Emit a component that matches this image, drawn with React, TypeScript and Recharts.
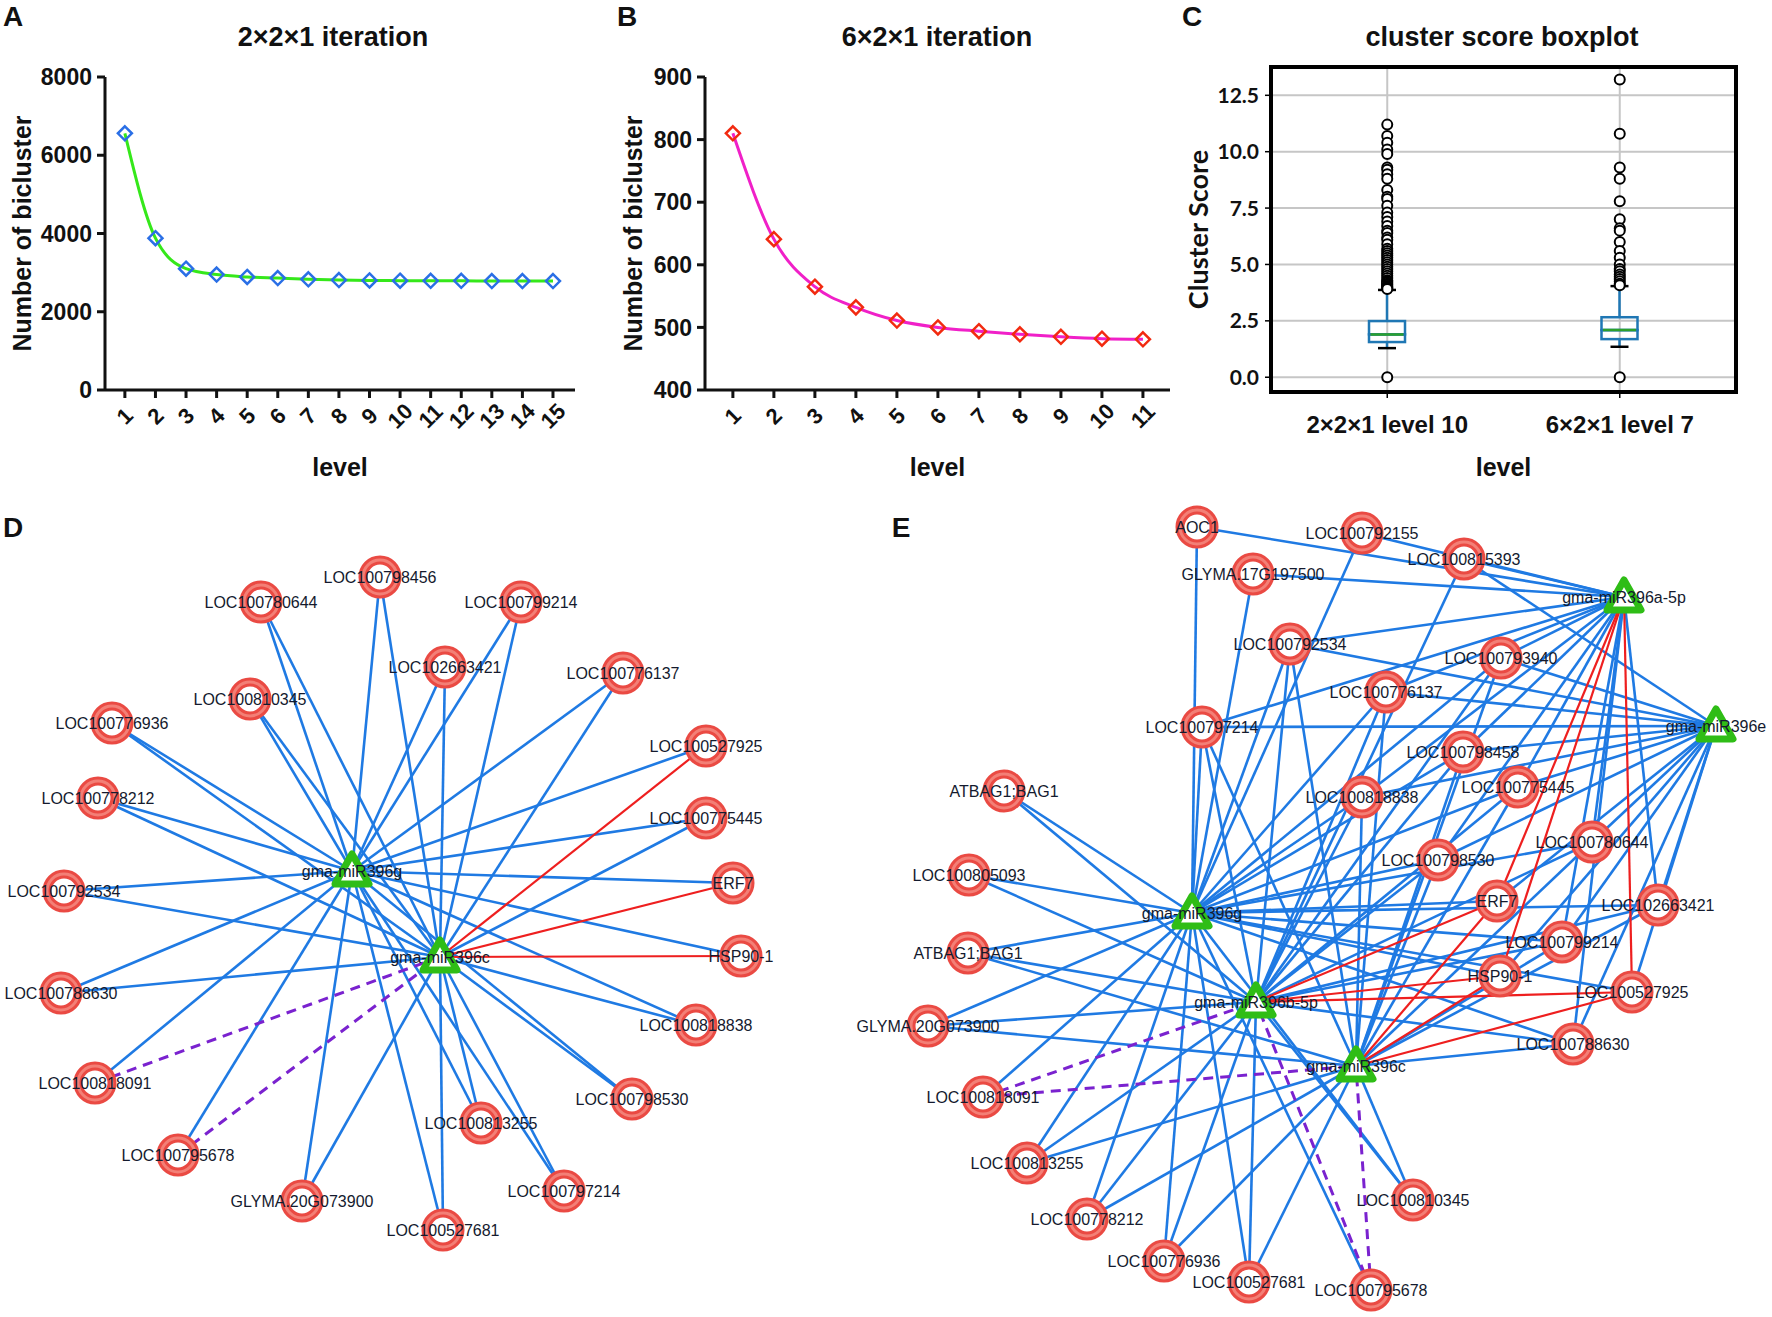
import React from 'react';
import {
  LineChart,
  Line,
  XAxis,
  YAxis,
  Label,
  ComposedChart,
  Bar,
  Scatter,
  CartesianGrid,
  ReferenceArea,
  ScatterChart,
  ReferenceLine,
} from 'recharts';

const SANS = '"Liberation Sans", Arial, sans-serif';
const LATO = 'Lato, "Liberation Sans", sans-serif';
const INK = '#111111';

// ---- panel A: 2x2x1 iteration
const levelsA = [1, 2, 3, 4, 5, 6, 7, 8, 9, 10, 11, 12, 13, 14, 15];
const countsA = [6560, 3880, 3100, 2950, 2890, 2860, 2830, 2810, 2800, 2795, 2790, 2790, 2785, 2785, 2785];
const yTicksA = [0, 2000, 4000, 6000, 8000];

// ---- panel B: 6x2x1 iteration
const levelsB = [1, 2, 3, 4, 5, 6, 7, 8, 9, 10, 11];
const countsB = [810, 641, 565, 532, 511, 500, 494, 489, 485, 482, 481];
const yTicksB = [400, 500, 600, 700, 800, 900];

// ---- panel C: cluster score boxplot
const boxLabels = ['2×2×1 level 10', '6×2×1 level 7'];
const boxPos = [1, 2];
const whiskerLow = [1.29, 1.35];
const quart1 = [1.56, 1.69];
const medians = [1.9, 2.09];
const quart3 = [2.49, 2.66];
const whiskerHigh = [3.87, 4.04];
const outliers1 = [
  11.2, 10.7, 10.4, 10.1, 9.9, 9.3, 9.2, 9.0, 8.8, 8.3, 8.0, 7.9, 7.6, 7.3, 7.1, 6.9, 6.7, 6.5,
  6.4, 6.2, 6.1, 5.9, 5.7, 5.6, 5.5, 5.4, 5.3, 5.2, 5.1, 5.0, 4.9, 4.8, 4.7, 4.6, 4.5, 4.4,
  4.3, 4.25, 4.2, 4.15, 4.1, 4.05, 4.0, 3.97, 3.94, 3.91, 0.0,
];
const outliers2 = [
  13.2, 10.8, 9.3, 8.8, 7.8, 7.0, 6.6, 6.5, 6.0, 5.6, 5.3, 5.0, 4.8, 4.7, 4.55, 4.45, 4.35,
  4.25, 4.15, 4.08, 0.0,
];
const scoreTicks = [0, 2.5, 5, 7.5, 10, 12.5];

// ---- panel D network (layout positions)
const dMirnas = [
  { key: 'g', label: 'gma-miR396g', x: 352, y: 871 },
  { key: 'c', label: 'gma-miR396c', x: 440, y: 957 },
];
const dTargets = [
  { label: 'LOC100798456', x: 380, y: 577, blue: 'gc', red: '', dash: '' },
  { label: 'LOC100780644', x: 261, y: 602, blue: 'gc', red: '', dash: '' },
  { label: 'LOC100799214', x: 521, y: 602, blue: 'gc', red: '', dash: '' },
  { label: 'LOC102663421', x: 445, y: 667, blue: 'gc', red: '', dash: '' },
  { label: 'LOC100776137', x: 623, y: 673, blue: 'gc', red: '', dash: '' },
  { label: 'LOC100810345', x: 250, y: 699, blue: 'gc', red: '', dash: '' },
  { label: 'LOC100776936', x: 112, y: 723, blue: 'gc', red: '', dash: '' },
  { label: 'LOC100778212', x: 98, y: 798, blue: 'gc', red: '', dash: '' },
  { label: 'LOC100792534', x: 64, y: 891, blue: 'gc', red: '', dash: '' },
  { label: 'LOC100788630', x: 61, y: 993, blue: 'gc', red: '', dash: '' },
  { label: 'LOC100818091', x: 95, y: 1083, blue: 'g', red: '', dash: 'c' },
  { label: 'LOC100795678', x: 178, y: 1155, blue: 'g', red: '', dash: 'c' },
  { label: 'GLYMA.20G073900', x: 302, y: 1201, blue: 'gc', red: '', dash: '' },
  { label: 'LOC100527681', x: 443, y: 1230, blue: 'gc', red: '', dash: '' },
  { label: 'LOC100813255', x: 481, y: 1123, blue: 'gc', red: '', dash: '' },
  { label: 'LOC100797214', x: 564, y: 1191, blue: 'gc', red: '', dash: '' },
  { label: 'LOC100798530', x: 632, y: 1099, blue: 'gc', red: '', dash: '' },
  { label: 'LOC100818838', x: 696, y: 1025, blue: 'gc', red: '', dash: '' },
  { label: 'HSP90-1', x: 741, y: 956, blue: 'g', red: 'c', dash: '' },
  { label: 'ERF7', x: 733, y: 883, blue: 'g', red: 'c', dash: '' },
  { label: 'LOC100775445', x: 706, y: 818, blue: 'gc', red: '', dash: '' },
  { label: 'LOC100527925', x: 706, y: 746, blue: 'g', red: 'c', dash: '' },
];

// ---- panel E network
const eMirnas = [
  { key: 'a', label: 'gma-miR396a-5p', x: 1624, y: 597 },
  { key: 'e', label: 'gma-miR396e', x: 1716, y: 726 },
  { key: 'g', label: 'gma-miR396g', x: 1192, y: 913 },
  { key: 'b', label: 'gma-miR396b-5p', x: 1256, y: 1002 },
  { key: 'c', label: 'gma-miR396c', x: 1356, y: 1066 },
];
const eTargets = [
  { label: 'AOC1', x: 1197, y: 527, blue: 'ag', red: '', dash: '' },
  { label: 'LOC100792155', x: 1362, y: 533, blue: 'ag', red: '', dash: '' },
  { label: 'LOC100815393', x: 1464, y: 559, blue: 'aeb', red: '', dash: '' },
  { label: 'GLYMA.17G197500', x: 1253, y: 574, blue: 'ag', red: '', dash: '' },
  { label: 'LOC100792534', x: 1290, y: 644, blue: 'aegbc', red: '', dash: '' },
  { label: 'LOC100793940', x: 1501, y: 658, blue: 'aegbc', red: '', dash: '' },
  { label: 'LOC100776137', x: 1386, y: 692, blue: 'aegbc', red: '', dash: '' },
  { label: 'LOC100797214', x: 1202, y: 727, blue: 'aegbc', red: '', dash: '' },
  { label: 'LOC100798458', x: 1463, y: 752, blue: 'aegbc', red: '', dash: '' },
  { label: 'LOC100775445', x: 1518, y: 787, blue: 'aegbc', red: '', dash: '' },
  { label: 'LOC100818838', x: 1362, y: 797, blue: 'aegbc', red: '', dash: '' },
  { label: 'ATBAG1;BAG1', x: 1004, y: 791, blue: 'gb', red: '', dash: '' },
  { label: 'LOC100780644', x: 1592, y: 842, blue: 'aegbc', red: '', dash: '' },
  { label: 'LOC100798530', x: 1438, y: 860, blue: 'aegbc', red: '', dash: '' },
  { label: 'LOC100805093', x: 969, y: 875, blue: 'gb', red: '', dash: '' },
  { label: 'ERF7', x: 1497, y: 901, blue: 'ge', red: 'abc', dash: '' },
  { label: 'LOC102663421', x: 1658, y: 905, blue: 'aegbc', red: '', dash: '' },
  { label: 'LOC100799214', x: 1562, y: 942, blue: 'aegbc', red: '', dash: '' },
  { label: 'ATBAG1;BAG1', x: 968, y: 953, blue: 'gbc', red: '', dash: '' },
  { label: 'HSP90-1', x: 1500, y: 976, blue: 'ge', red: 'abc', dash: '' },
  { label: 'LOC100527925', x: 1632, y: 992, blue: 'ge', red: 'abc', dash: '' },
  { label: 'GLYMA.20G073900', x: 928, y: 1026, blue: 'gbc', red: '', dash: '' },
  { label: 'LOC100788630', x: 1573, y: 1044, blue: 'aegbc', red: '', dash: '' },
  { label: 'LOC100818091', x: 983, y: 1097, blue: 'g', red: '', dash: 'bc' },
  { label: 'LOC100813255', x: 1027, y: 1163, blue: 'gbc', red: '', dash: '' },
  { label: 'LOC100810345', x: 1413, y: 1200, blue: 'gbc', red: '', dash: '' },
  { label: 'LOC100778212', x: 1087, y: 1219, blue: 'gbc', red: '', dash: '' },
  { label: 'LOC100776936', x: 1164, y: 1261, blue: 'gbc', red: '', dash: '' },
  { label: 'LOC100527681', x: 1249, y: 1282, blue: 'gbc', red: '', dash: '' },
  { label: 'LOC100795678', x: 1371, y: 1290, blue: 'g', red: '', dash: 'bc' },
];

const EDGE_STYLE: Record<string, { stroke: string; strokeWidth: number; dash?: string }> = {
  blue: { stroke: '#1f7ae3', strokeWidth: 2.6 },
  red: { stroke: '#ee1f1f', strokeWidth: 2.2 },
  dash: { stroke: '#7a22cf', strokeWidth: 3, dash: '10 7' },
};

const diamond = (color: string) => (props: any) => {
  const { cx, cy, index } = props;
  if (cx == null || cy == null) return <g key={`dm${index}`} />;
  const r = 7;
  return (
    <path
      key={`dm${index}`}
      d={`M${cx},${cy - r}L${cx + r},${cy}L${cx},${cy + r}L${cx - r},${cy}Z`}
      fill="none"
      stroke={color}
      strokeWidth={2.5}
    />
  );
};

const SlantTick = (props: any) => {
  const { x, y, payload } = props;
  return (
    <g transform={`translate(${x},${y + 16}) rotate(-45)`}>
      <text textAnchor="middle" dominantBaseline="central" fontSize={22} fontWeight={700} fontFamily={SANS} fill={INK}>
        {payload.value}
      </text>
    </g>
  );
};

// plot area of A/B: top 77, bottom 390 in page px; y axis box 83 px wide, x axis box 60 px tall
function IterationChart(props: {
  left: number;
  levels: number[];
  counts: number[];
  xDomain: [number, number];
  yTicks: number[];
  lineColor: string;
  markColor: string;
  plotLeft: number;
  plotRight: number;
  yLabelX: number;
}) {
  const rows = props.levels.map((l, i) => ({ level: l, count: props.counts[i] }));
  const yDomain: [number, number] = [props.yTicks[0], props.yTicks[props.yTicks.length - 1]];
  const W = 600;
  const axisW = 83;
  return (
    <div style={{ position: 'absolute', left: props.left, top: 0 }}>
      <LineChart
        width={W}
        height={480}
        data={rows}
        margin={{ top: 77, left: props.plotLeft - axisW, right: W - props.plotRight, bottom: 30 }}
      >
        <XAxis
          type="number"
          dataKey="level"
          domain={props.xDomain}
          ticks={props.levels}
          interval={0}
          height={60}
          tick={<SlantTick />}
          tickSize={8}
          axisLine={{ stroke: INK, strokeWidth: 3 }}
          tickLine={{ stroke: INK, strokeWidth: 3 }}
        >
          <Label value="level" position="bottom" offset={8} fontSize={25} fontWeight={700} fontFamily={SANS} fill={INK} />
        </XAxis>
        <YAxis
          type="number"
          domain={yDomain}
          ticks={props.yTicks}
          width={axisW}
          tickSize={8}
          tickMargin={5}
          axisLine={{ stroke: INK, strokeWidth: 3 }}
          tickLine={{ stroke: INK, strokeWidth: 3 }}
          tick={{ fontSize: 23, fontWeight: 700, fontFamily: SANS, fill: INK }}
        >
          <Label
            value="Number of bicluster"
            angle={-90}
            position="insideLeft"
            offset={props.yLabelX - (props.plotLeft - axisW)}
            fontSize={25}
            fontWeight={700}
            fontFamily={SANS}
            fill={INK}
            style={{ textAnchor: 'middle' }}
          />
        </YAxis>
        <Line
          type="monotone"
          dataKey="count"
          stroke={props.lineColor}
          strokeWidth={3}
          dot={diamond(props.markColor)}
          isAnimationActive={false}
        />
      </LineChart>
    </div>
  );
}

const BOX_BLUE = '#1f77b4';
const EmptyShape = () => <g />;
const LowWhisker = (p: any) => {
  const cx = p.x + p.width / 2;
  return (
    <g>
      <line x1={cx} x2={cx} y1={p.y} y2={p.y + p.height} stroke={BOX_BLUE} strokeWidth={2.5} />
      <line x1={cx - p.width / 4} x2={cx + p.width / 4} y1={p.y + p.height} y2={p.y + p.height} stroke="#000" strokeWidth={2.5} />
    </g>
  );
};
const HighWhisker = (p: any) => {
  const cx = p.x + p.width / 2;
  return (
    <g>
      <line x1={cx} x2={cx} y1={p.y} y2={p.y + p.height} stroke={BOX_BLUE} strokeWidth={2.5} />
      <line x1={cx - p.width / 4} x2={cx + p.width / 4} y1={p.y} y2={p.y} stroke="#000" strokeWidth={2.5} />
    </g>
  );
};
const LowBox = (p: any) => (
  <rect x={p.x} y={p.y} width={p.width} height={p.height} fill="none" stroke={BOX_BLUE} strokeWidth={2.5} />
);
const HighBox = (p: any) => (
  <g>
    <rect x={p.x} y={p.y} width={p.width} height={p.height} fill="none" stroke={BOX_BLUE} strokeWidth={2.5} />
    <line x1={p.x + 1.5} x2={p.x + p.width - 1.5} y1={p.y + p.height} y2={p.y + p.height} stroke="#2ca02c" strokeWidth={2.5} />
  </g>
);
const OutlierDot = (p: any) => <circle cx={p.cx} cy={p.cy} r={5} fill="#fff" stroke="#000" strokeWidth={2} />;

const BoxTick = (props: any) => {
  const { x, y, payload } = props;
  return (
    <text x={x} y={y + 24} textAnchor="middle" dominantBaseline="central" fontSize={24} fontWeight={700} fontFamily={SANS} fill={INK}>
      {boxLabels[boxPos.indexOf(payload.value)]}
    </text>
  );
};

function ScoreBoxplot() {
  const rows = boxPos.map((p, i) => ({
    pos: p,
    base: whiskerLow[i],
    lowW: quart1[i] - whiskerLow[i],
    lowBox: medians[i] - quart1[i],
    highBox: quart3[i] - medians[i],
    highW: whiskerHigh[i] - quart3[i],
  }));
  const points = [
    ...outliers1.map((v) => ({ pos: 1, score: v })),
    ...outliers2.map((v) => ({ pos: 2, score: v })),
  ];
  const yDom: [number, number] = [-0.655, 13.755];
  // container starts at page x 1100; plot area 1271..1736 x 67..392
  return (
    <div style={{ position: 'absolute', left: 1100, top: 0 }}>
      <ComposedChart width={672} height={480} data={rows} margin={{ top: 67, left: 91, right: 36, bottom: 38 }}>
        <CartesianGrid stroke="#c6c6c6" strokeWidth={2} />
        <XAxis
          type="number"
          dataKey="pos"
          domain={[0.5, 2.5]}
          ticks={boxPos}
          height={50}
          axisLine={false}
          tickSize={6}
          tickLine={{ stroke: '#000', strokeWidth: 1.5 }}
          tick={<BoxTick />}
        >
          <Label value="level" position="bottom" offset={16} fontSize={25} fontWeight={700} fontFamily={SANS} fill={INK} />
        </XAxis>
        <YAxis
          type="number"
          domain={yDom}
          ticks={scoreTicks}
          tickFormatter={(v: number) => v.toFixed(1)}
          width={80}
          axisLine={false}
          tickSize={6}
          tickMargin={6}
          tickLine={{ stroke: '#000', strokeWidth: 1.5 }}
          tick={{ fontSize: 21, fontWeight: 700, fontFamily: LATO, fill: INK }}
        >
          <Label
            value="Cluster Score"
            angle={-90}
            position="insideLeft"
            offset={7}
            fontSize={27}
            fontWeight={700}
            fontFamily={LATO}
            fill={INK}
            style={{ textAnchor: 'middle' }}
          />
        </YAxis>
        <Bar dataKey="base" stackId="box" barSize={36} shape={EmptyShape} isAnimationActive={false} />
        <Bar dataKey="lowW" stackId="box" barSize={36} shape={LowWhisker} isAnimationActive={false} />
        <Bar dataKey="lowBox" stackId="box" barSize={36} shape={LowBox} isAnimationActive={false} />
        <Bar dataKey="highBox" stackId="box" barSize={36} shape={HighBox} isAnimationActive={false} />
        <Bar dataKey="highW" stackId="box" barSize={36} shape={HighWhisker} isAnimationActive={false} />
        <Scatter data={points} dataKey="score" shape={OutlierDot} isAnimationActive={false} />
        <ReferenceArea
          x1={0.5}
          x2={2.5}
          y1={yDom[0]}
          y2={yDom[1]}
          fill="none"
          fillOpacity={0}
          stroke="#000"
          strokeWidth={4}
          ifOverflow="visible"
        />
      </ComposedChart>
    </div>
  );
}

const TargetNode = (p: any) => {
  const { cx, cy, payload } = p;
  return (
    <g>
      <circle cx={cx} cy={cy} r={17} fill="#fff" stroke="#ea4a43" strokeWidth={9} />
      <circle cx={cx} cy={cy} r={17} fill="none" stroke="#f7958b" strokeWidth={3} strokeOpacity={0.7} />
      <text x={cx} y={cy} textAnchor="middle" dominantBaseline="central" fontSize={16} fontFamily={SANS} fill="#141a2e">
        {payload.label}
      </text>
    </g>
  );
};

const MirnaNode = (p: any) => {
  const { cx, cy, payload } = p;
  return (
    <g>
      <path
        d={`M${cx},${cy - 17}L${cx + 17},${cy + 13}L${cx - 17},${cy + 13}Z`}
        fill="#fff"
        stroke="#2fbd16"
        strokeWidth={7}
        strokeLinejoin="round"
      />
      <text x={cx} y={cy} textAnchor="middle" dominantBaseline="central" fontSize={16} fontFamily={SANS} fill="#141a2e">
        {payload.label}
      </text>
    </g>
  );
};

type Target = { label: string; x: number; y: number; blue: string; red: string; dash: string };
type Mirna = { key: string; label: string; x: number; y: number };

function NetworkChart(props: { left: number; top: number; width: number; height: number; mirnas: Mirna[]; targets: Target[] }) {
  const { left, top, width, height, mirnas, targets } = props;
  const byKey: Record<string, Mirna> = {};
  mirnas.forEach((m) => (byKey[m.key] = m));
  const edges: { id: string; kind: string; a: Target; b: Mirna }[] = [];
  (['blue', 'red', 'dash'] as const).forEach((kind) => {
    targets.forEach((t, i) => {
      t[kind].split('').forEach((k) => edges.push({ id: `${kind}-${i}-${k}`, kind, a: t, b: byKey[k] }));
    });
  });
  return (
    <div style={{ position: 'absolute', left, top }}>
      <ScatterChart width={width} height={height} margin={{ top: 0, right: 0, bottom: 0, left: 0 }}>
        <XAxis type="number" dataKey="x" domain={[left, left + width]} hide height={0} />
        <YAxis type="number" dataKey="y" domain={[top, top + height]} reversed hide width={0} />
        {edges.map((e) => {
          const s = EDGE_STYLE[e.kind];
          return (
            <ReferenceLine
              key={e.id}
              segment={[
                { x: e.a.x, y: e.a.y },
                { x: e.b.x, y: e.b.y },
              ]}
              stroke={s.stroke}
              strokeWidth={s.strokeWidth}
              strokeDasharray={s.dash}
            />
          );
        })}
        <Scatter data={targets} shape={TargetNode} isAnimationActive={false} />
        <Scatter data={mirnas} shape={MirnaNode} isAnimationActive={false} />
      </ScatterChart>
    </div>
  );
}

export default function App() {
  const letter = { fontSize: 28, fontWeight: 700, fontFamily: SANS, fill: INK } as const;
  const title = { fontSize: 27, fontWeight: 700, fontFamily: SANS, fill: INK } as const;
  return (
    <div style={{ position: 'absolute', left: 0, top: 0, width: 1772, height: 1317, background: '#fff', overflow: 'hidden' }}>
      <svg width={1772} height={1317} style={{ position: 'absolute', left: 0, top: 0 }}>
        <text x={13} y={16} textAnchor="middle" dominantBaseline="central" {...letter}>A</text>
        <text x={627} y={16} textAnchor="middle" dominantBaseline="central" {...letter}>B</text>
        <text x={1192} y={16} textAnchor="middle" dominantBaseline="central" {...letter}>C</text>
        <text x={13} y={527} textAnchor="middle" dominantBaseline="central" {...letter}>D</text>
        <text x={901} y={527} textAnchor="middle" dominantBaseline="central" {...letter}>E</text>
        <text x={333} y={37} textAnchor="middle" dominantBaseline="central" {...title}>2×2×1 iteration</text>
        <text x={937} y={37} textAnchor="middle" dominantBaseline="central" {...title}>6×2×1 iteration</text>
        <text x={1502} y={37} textAnchor="middle" dominantBaseline="central" {...title}>cluster score boxplot</text>
      </svg>
      <IterationChart
        left={0}
        levels={levelsA}
        counts={countsA}
        xDomain={[0.35, 15.72]}
        yTicks={yTicksA}
        lineColor="#35e81a"
        markColor="#2a6fe6"
        plotLeft={105}
        plotRight={575}
        yLabelX={22}
      />
      <IterationChart
        left={600}
        levels={levelsB}
        counts={countsB}
        xDomain={[0.32, 11.66]}
        yTicks={yTicksB}
        lineColor="#f020c8"
        markColor="#f22a10"
        plotLeft={105}
        plotRight={570}
        yLabelX={33}
      />
      <ScoreBoxplot />
      <NetworkChart left={0} top={480} width={780} height={837} mirnas={dMirnas} targets={dTargets} />
      <NetworkChart left={780} top={480} width={992} height={837} mirnas={eMirnas} targets={eTargets} />
    </div>
  );
}
